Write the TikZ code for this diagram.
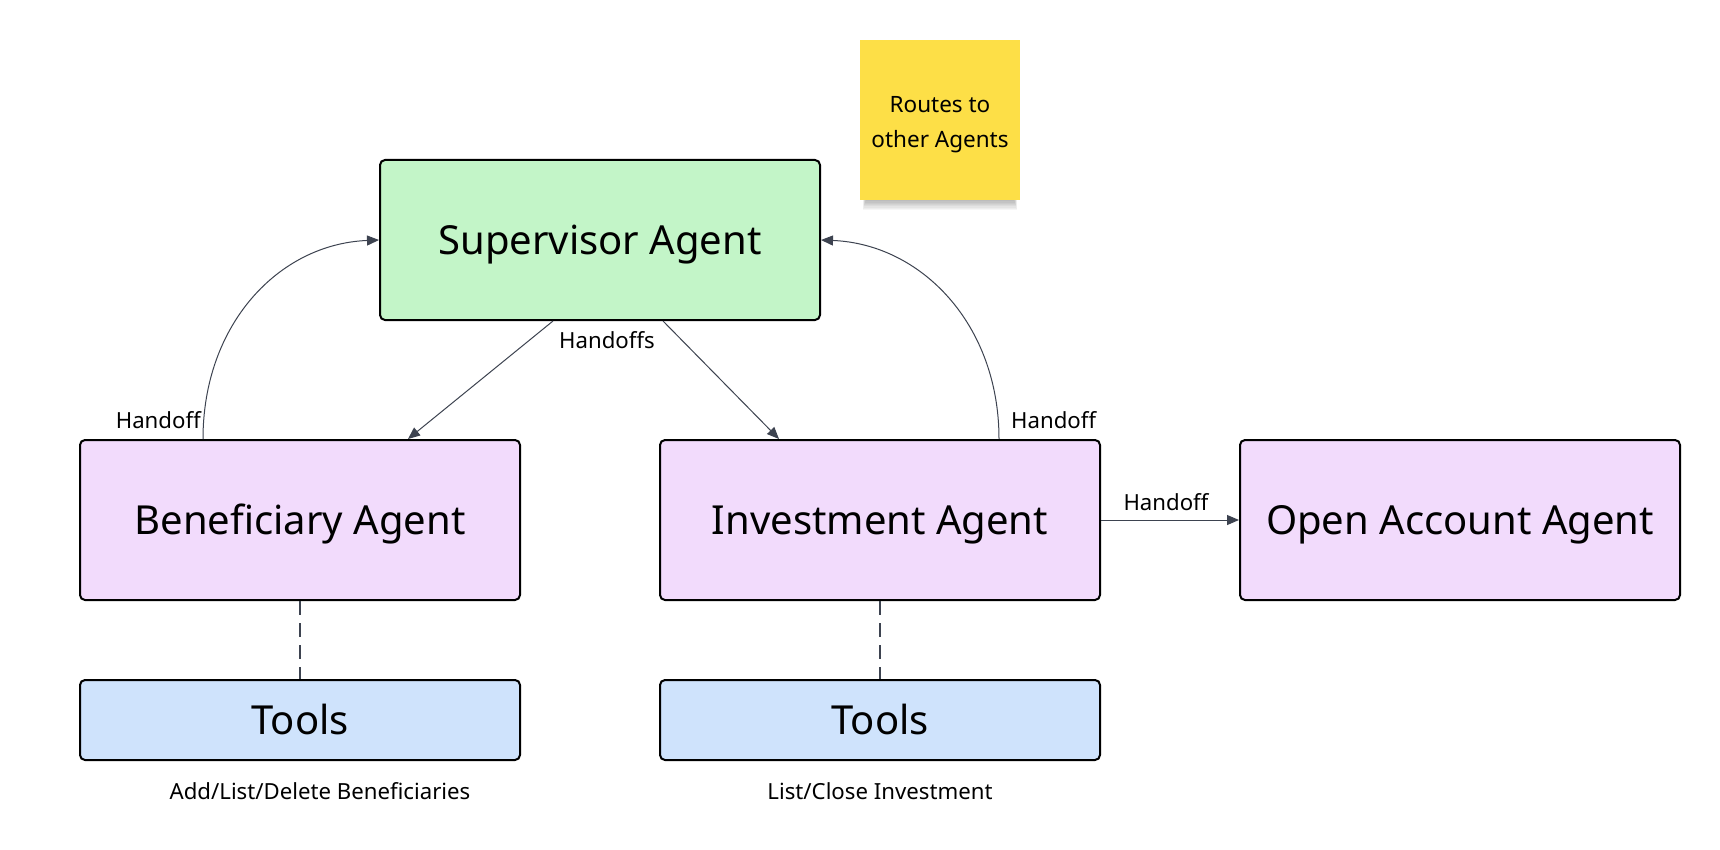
\documentclass[tikz,border=0pt]{standalone}
\usepackage{fontspec}
\setmainfont{Noto Sans}
\usetikzlibrary{arrows.meta}
\definecolor{supfill}{HTML}{C3F5C8}
\definecolor{agfill}{HTML}{F2DBFC}
\definecolor{toolfill}{HTML}{CFE3FC}
\definecolor{stickyfill}{HTML}{FDDF47}
\definecolor{linkc}{HTML}{3D4350}
\tikzset{
  box/.style={draw=black, line width=2pt, rounded corners=5pt, inner sep=0pt,
    minimum width=440pt, font=\fontsize{40}{48}\selectfont,
    text height=28.5pt, text depth=0pt},
  agentbox/.style={box, minimum height=160pt, fill=agfill},
  toolbox/.style={box, minimum height=80pt, fill=toolfill},
  lbl/.style={font=\fontsize{22.2}{26}\selectfont, inner sep=0pt,
    text height=16pt, text depth=0pt},
  link/.style={draw=linkc, line width=1pt, -{Triangle[length=12pt,width=10pt]}},
  dashlink/.style={draw=linkc, line width=2pt, dash pattern=on 14pt off 8pt},
}
\begin{document}
\begin{tikzpicture}[x=1pt,y=-1pt]
\useasboundingbox (0,0) rectangle (1720,850);
\fill[white] (0,0) rectangle (1720,850);

% soft shadow of the sticky note
\foreach \d in {1,...,8}{
  \fill[black, opacity=0.035] (866-0.4*\d,195) rectangle (1014+0.4*\d,200+1.3*\d);
}

\node[box, minimum height=160pt, fill=supfill] (sup) at (600,240) {Supervisor Agent};
\node[agentbox] (ben) at (300,520) {Beneficiary Agent};
\node[agentbox] (inv) at (880,520) {Investment Agent};
\node[agentbox] (open) at (1460,520) {Open Account Agent};
\node[toolbox] (t1) at (300,720) {Tools};
\node[toolbox] (t2) at (880,720) {Tools};
\node[fill=stickyfill, minimum width=160pt, minimum height=160pt, inner sep=0pt,
  label={[name=stickytext, align=center, font=\fontsize{22.5}{35}\selectfont, yshift=-5pt]center:Routes to\\other Agents}]
  (sticky) at (940,120) {};

\path[link] ([xshift=-47pt]sup.south) -- ([xshift=108pt]ben.north);
\path[link] ([xshift=63pt]sup.south) -- ([xshift=-101pt]inv.north);
\path[link] ([xshift=-97pt]ben.north) .. controls +(0,-115) and +(-100,4) .. (sup.west);
\path[link] ([xshift=119pt]inv.north) .. controls +(0,-115) and +(100,4) .. (sup.east);
\path[link] (inv.east) -- (open.west);
\path[dashlink] (ben.south) -- (t1.north);
\path[dashlink] (inv.south) -- (t2.north);

\node[lbl] (lh) at (607,340) {Handoffs};
\node[lbl, anchor=east] (lb) at (201,420) {Handoff};
\node[lbl, anchor=west] (li) at (1011,420) {Handoff};
\node[lbl] (lo) at (1166,502) {Handoff};
\node[lbl] (d1) at (320,791) {Add/List/Delete Beneficiaries};
\node[lbl] (d2) at (880,791) {List/Close Investment};
\end{tikzpicture}
\end{document}
